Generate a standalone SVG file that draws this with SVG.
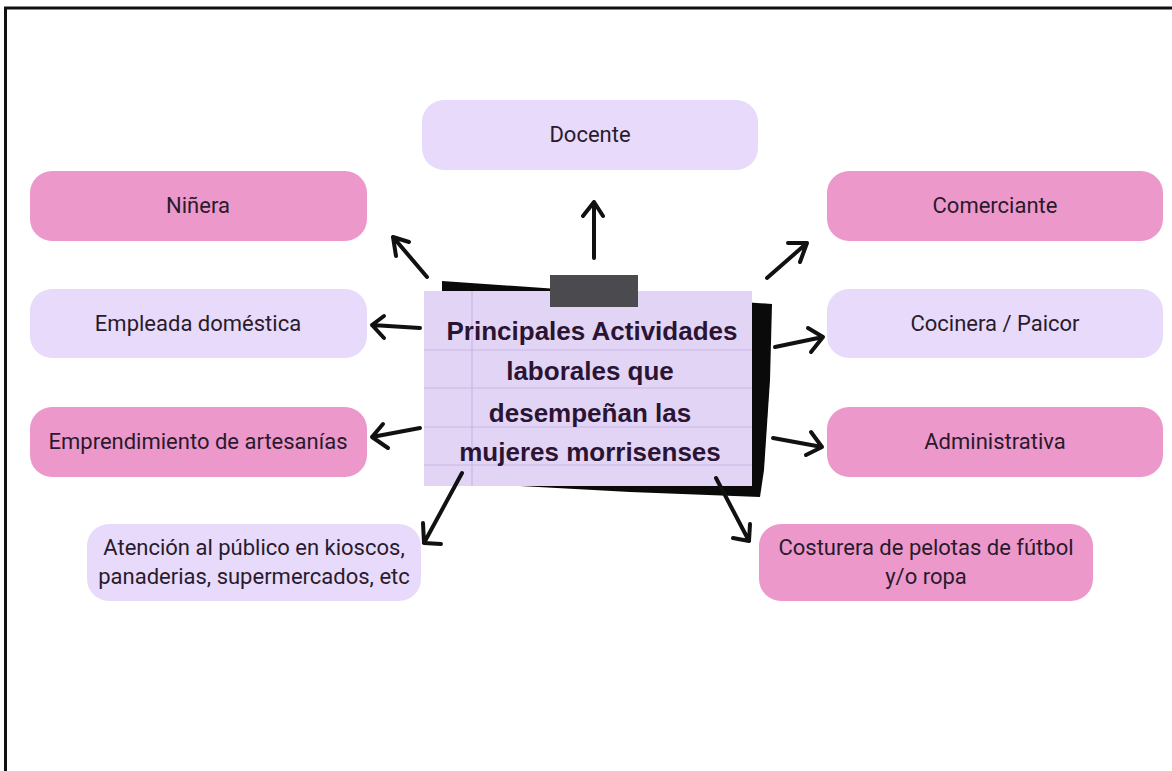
<svg xmlns="http://www.w3.org/2000/svg" width="1172" height="771" viewBox="0 0 1172 771">
<style>
.pink{fill:#ec98cb}
.lav{fill:#e7dafa}
.lbl{font-family:Roboto,"Liberation Sans",sans-serif;font-size:22px;fill:#2a1a2c;text-anchor:middle}
.title{font-family:"Liberation Sans",Arial,sans-serif;font-weight:bold;font-size:26px;fill:#2b1433;text-anchor:middle}
.arr{fill:none;stroke:#111;stroke-width:4;stroke-linecap:round;stroke-linejoin:round}
.nl{stroke:#c9b7e6;stroke-width:1.2}
</style>
<rect width="1172" height="771" fill="#fff"/>
<path d="M5.5,771 V8 H1172" fill="none" stroke="#111" stroke-width="3"/>

<g id="center">
<polygon points="442,281 772,304 770,380 764,470 760,497 630,492 520,486 442,291" fill="#0a0a0a"/>
<rect x="424" y="291" width="328" height="195" fill="#e2d4f5"/>
<line class="nl" x1="424" y1="350" x2="752" y2="350"/>
<line class="nl" x1="424" y1="388" x2="752" y2="388"/>
<line class="nl" x1="424" y1="427" x2="752" y2="427"/>
<line class="nl" x1="424" y1="465" x2="752" y2="465"/>
<line class="nl" x1="472" y1="291" x2="472" y2="486"/>
<rect x="550" y="275" width="88" height="32" fill="#4b4a4e"/>
<text class="title" x="592" y="340">Principales Actividades</text>
<text class="title" x="590" y="380">laborales que</text>
<text class="title" x="590" y="422">desempeñan las</text>
<text class="title" x="590" y="461">mujeres morrisenses</text>
</g>

<g id="docente"><rect class="lav" x="422" y="100" width="336" height="70" rx="22"/><text class="lbl" x="590" y="142">Docente</text></g>
<g id="ninera"><rect class="pink" x="30" y="171" width="337" height="70" rx="22"/><text class="lbl" x="198" y="213">Niñera</text></g>
<g id="comerciante"><rect class="pink" x="827" y="171" width="336" height="70" rx="22"/><text class="lbl" x="995" y="213">Comerciante</text></g>
<g id="empleada"><rect class="lav" x="30" y="289" width="337" height="69" rx="22"/><text class="lbl" x="198" y="331">Empleada doméstica</text></g>
<g id="cocinera"><rect class="lav" x="827" y="289" width="336" height="69" rx="22"/><text class="lbl" x="995" y="331">Cocinera / Paicor</text></g>
<g id="emprendimiento"><rect class="pink" x="30" y="407" width="337" height="70" rx="22"/><text class="lbl" x="198" y="449">Emprendimiento de artesanías</text></g>
<g id="administrativa"><rect class="pink" x="827" y="407" width="336" height="70" rx="22"/><text class="lbl" x="995" y="449">Administrativa</text></g>
<g id="atencion"><rect class="lav" x="87" y="524" width="334" height="77" rx="22"/><text class="lbl" x="254" y="555">Atención al público en kioscos,</text><text class="lbl" x="254" y="584">panaderias, supermercados, etc</text></g>
<g id="costurera"><rect class="pink" x="759" y="524" width="334" height="77" rx="22"/><text class="lbl" x="926" y="555">Costurera de pelotas de fútbol</text><text class="lbl" x="926" y="584">y/o ropa</text></g>

<g id="connectors">
<path class="arr" d="M594,258 L594,202 M583,216 L594,202 L603,216"/>
<path class="arr" d="M427,277 L393,237 M409,242 L393,237 L396,256"/>
<path class="arr" d="M420,328 L372,325 M384,316 L372,325 L384,338"/>
<path class="arr" d="M420,428 L372,437 M383,424 L372,437 L388,448"/>
<path class="arr" d="M767,278 L807,243 M788,243 L807,243 L800,262"/>
<path class="arr" d="M775,347 L823,337 M808,328 L823,337 L811,352"/>
<path class="arr" d="M773,438 L822,447 M811,432 L822,447 L806,455"/>
<path class="arr" d="M462,473 L424,543 M423,523 L424,543 L441,544"/>
<path class="arr" d="M716,478 L749,541 M733,538 L749,541 L750,524"/>
</g>
</svg>
